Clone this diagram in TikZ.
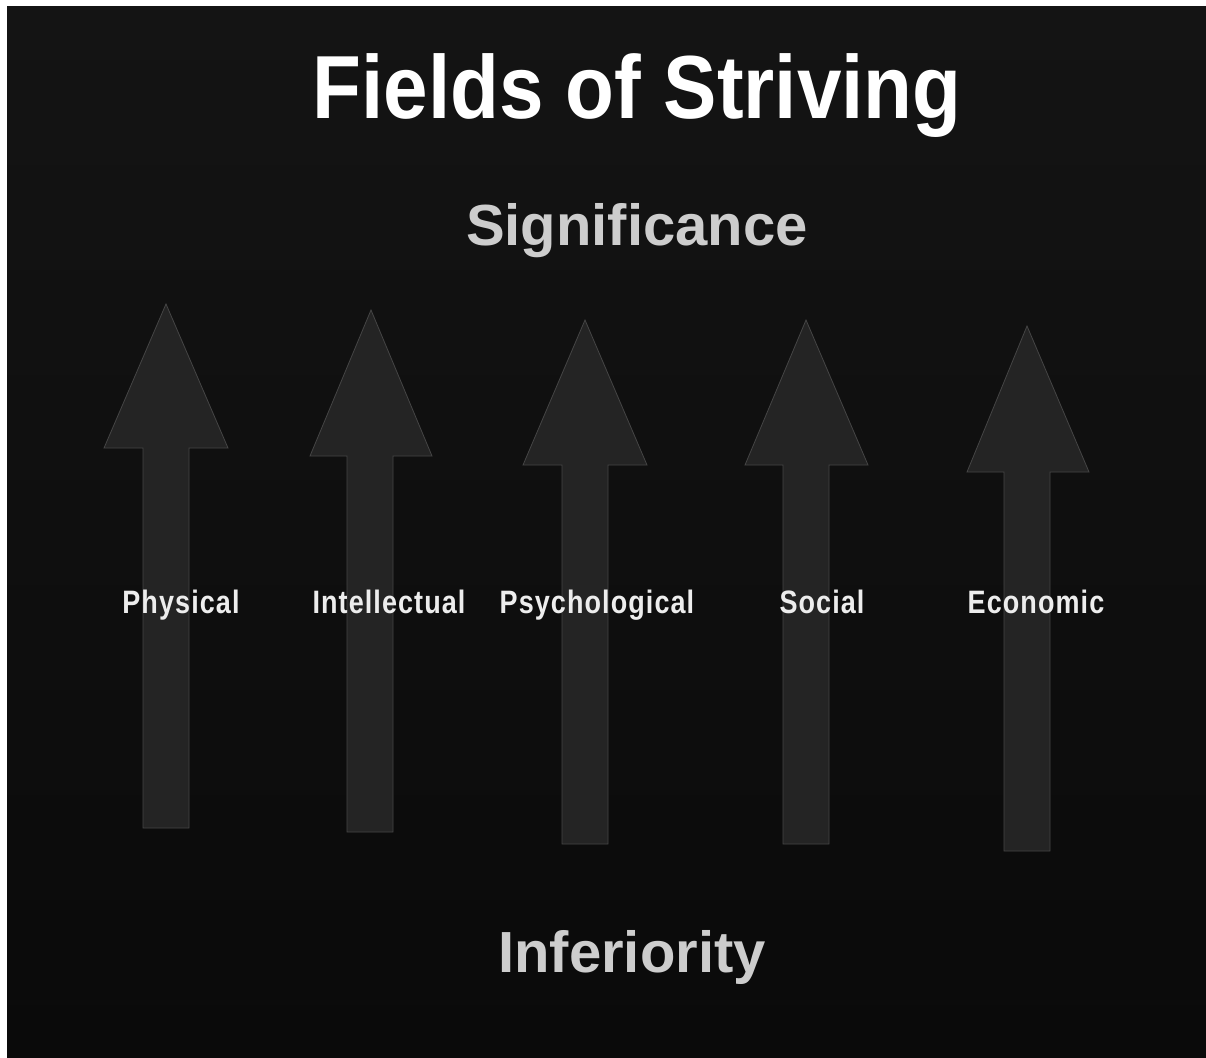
\documentclass[tikz,border=0pt]{standalone}
\usepackage{fontspec}
\setmainfont{Liberation Sans}
\usepackage{graphicx}
\definecolor{bgtop}{HTML}{141414}
\definecolor{bgbot}{HTML}{0A0A0A}
\definecolor{arrowfill}{HTML}{242424}
\definecolor{subtext}{HTML}{CDCDCD}
\tikzset{
  fieldarrow/.style={fill=arrowfill, draw=arrowfill!85!white, line width=0.8pt, line join=miter},
  fieldlabel/.style={anchor=base, text=white!93!black, font=\fontsize{27}{30}\selectfont\bfseries\addfontfeature{LetterSpace=4}, inner sep=0pt},
  bigword/.style={anchor=base, text=subtext, font=\fontsize{58}{62}\selectfont\bfseries, inner sep=0pt},
}
\begin{document}
\begin{tikzpicture}[x=1pt,y=-1pt]
\useasboundingbox (0,0) rectangle (1206,1057);
\fill[white] (0,0) rectangle (1206,1057);
\shade[top color=bgtop, bottom color=bgbot] (7,7) rectangle (1206,1057);
% arrows: tip, head base y, head left/right, shaft left/right, bottom
\foreach \tx/\ty/\by/\hl/\hr/\sl/\sr/\bt in {
  166/304/448/104/228/143/189/828,
  371/310/456/310/432/347/393/832,
  585/320/465/523/647/562/608/844,
  806/320/465/745/868/783/829/844,
  1027/326/472/967/1089/1004/1050/851}{
  \path[fieldarrow] (\tx,\ty) -- (\hr,\by) -- (\sr,\by) -- (\sr,\bt) -- (\sl,\bt) -- (\sl,\by) -- (\hl,\by) -- cycle;
}
\node[anchor=base, text=white, font=\fontsize{80}{86}\selectfont\bfseries, inner sep=0pt] (title) at (637,118) {\scalebox{1}[1.12]{Fields of Striving}};
\node[bigword] (sig) at (637,245) {Significance};
\node[bigword] (inf) at (632,972) {Inferiority};
\node[fieldlabel] (phys) at (181,613) {\scalebox{1}[1.2]{Physical}};
\node[fieldlabel] (intel) at (389,613) {\scalebox{1}[1.2]{Intellectual}};
\node[fieldlabel] (psych) at (597,613) {\scalebox{1}[1.2]{Psychological}};
\node[fieldlabel] (soc) at (822,613) {\scalebox{1}[1.2]{Social}};
\node[fieldlabel] (econ) at (1036,613) {\scalebox{1}[1.2]{Economic}};
\end{tikzpicture}
\end{document}
